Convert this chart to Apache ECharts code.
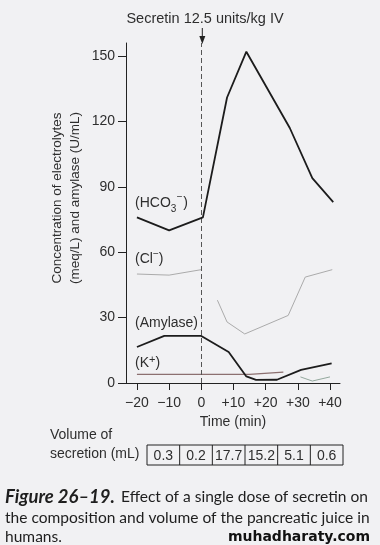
<!DOCTYPE html>
<html><head><meta charset="utf-8">
<script src="https://cdn.jsdelivr.net/npm/echarts/dist/echarts.min.js"></script>
<style>html,body{margin:0;padding:0;background:#f1f1f3;}#c{width:380px;height:545px;}</style>
</head><body><div id="c"></div>
<script>
// ---- data ----
const timeTicks = [-20, -10, 0, 10, 20, 30, 40];
const yTicks = [0, 30, 60, 90, 120, 150];
const hco3 = [[-20, 76], [-10, 70], [0.5, 76], [8, 131], [14, 152], [27.5, 117], [34.5, 94], [41, 83]];
const chloride = [[-20, 50], [-10, 49.5], [0, 52], [2.5, null], [5, 38], [8, 28], [13.5, 22.5], [27, 31], [32.3, 48.6], [40.7, 52]];
const amylase = [[-20, 16.5], [-11.5, 21.6], [0, 21.6], [8.5, 14.2], [14, 3], [17, 1.4], [23.5, 1.5], [31, 6], [40.5, 9]];
const potassium = [[-20, 4], [0, 4], [15, 4], [25.5, 5]];
const potassiumLate = [[30.8, 2.8], [34.5, 0.9], [40, 2.8]];
const volumeLabels = ['0.3', '0.2', '17.7', '15.2', '5.1', '0.6'];
const secretinLabel = 'Secretin 12.5 units/kg IV';
const yTitle = ['Concentration of electrolytes', '(meq/L) and amylase (U/mL)'];
const xTitle = 'Time (min)';
const captionBold = 'Figure 26\u201319.';
const captionLines = ['Effect of a single dose of secretin on', 'the composition and volume of the pancreatic juice in', 'humans.'];
const watermark = 'muhadharaty.com';

// ---- chart ----
const FF = '"Liberation Sans", Arial, sans-serif';
const TXT = '#2e2e2e';
const chart = echarts.init(document.getElementById('c'), null, {renderer: 'canvas'});
const ctx = document.createElement('canvas').getContext('2d');
function tw(font, s) { ctx.font = font; return ctx.measureText(s).width; }

chart.setOption({
  animation: false,
  backgroundColor: '#f1f1f3',
  grid: {left: 126, right: 40, top: 43, bottom: 162},
  xAxis: {
    type: 'value', min: -23.4, max: 43.1,
    axisLine: {show: true, onZero: false, lineStyle: {color: '#222', width: 1}},
    axisTick: {show: true, customValues: timeTicks, length: 7, lineStyle: {color: '#222'}},
    axisLabel: {customValues: timeTicks, fontSize: 14, fontFamily: FF, color: TXT, margin: 13,
      formatter: v => v > 0 ? '+' + v : (v < 0 ? '\u2212' + Math.abs(v) : '0')},
    splitLine: {show: false},
    name: xTitle, nameLocation: 'middle', nameGap: 32,
    nameTextStyle: {fontSize: 14, fontFamily: FF, color: TXT}
  },
  yAxis: {
    type: 'value', min: 0, max: 156,
    axisLine: {show: true, onZero: false, lineStyle: {color: '#222', width: 1}},
    axisTick: {show: true, customValues: yTicks, length: 8, lineStyle: {color: '#222'}},
    axisLabel: {customValues: yTicks, fontSize: 14, fontFamily: FF, color: TXT, margin: 11},
    splitLine: {show: false}
  },
  series: [
    {name: 'HCO3', type: 'line', data: hco3, symbol: 'none', z: 5,
      lineStyle: {color: '#1c1c1c', width: 1.8},
      markLine: {silent: true, symbol: 'none', label: {show: false},
        lineStyle: {type: [5, 3], color: '#555', width: 1}, data: [{xAxis: 0}]}},
    {name: 'Cl', type: 'line', data: chloride, symbol: 'none', connectNulls: false,
      lineStyle: {color: '#ababab', width: 1}},
    {name: 'Amylase', type: 'line', data: amylase, symbol: 'none', z: 5,
      lineStyle: {color: '#1c1c1c', width: 1.8}},
    {name: 'K', type: 'line', data: potassium, symbol: 'none',
      lineStyle: {color: '#8c7070', width: 1.2}},
    {name: 'K2', type: 'line', data: potassiumLate, symbol: 'none',
      lineStyle: {color: '#93a89d', width: 1}}
  ]
});

const x0 = chart.convertToPixel({xAxisIndex: 0}, 0);
const g = [];
function T(text, x, y, size, opts) {
  opts = opts || {};
  g.push({type: 'text', x: x, y: y, rotation: opts.rot || 0, silent: true,
    style: {text: text, fontSize: size, fontFamily: opts.ff || FF, fontWeight: opts.fw || 'normal',
      fontStyle: opts.fs || 'normal', fill: opts.fill || TXT, align: opts.align || 'left',
      verticalAlign: opts.va || 'middle'}});
}
// secretin label + arrow
T(secretinLabel, 205, 19, 14.5, {align: 'center'});
g.push({type: 'line', silent: true, shape: {x1: x0 + 1, y1: 28, x2: x0 + 1, y2: 40}, style: {stroke: '#222', lineWidth: 1}});
g.push({type: 'polygon', silent: true, shape: {points: [[x0 - 2, 36], [x0 + 4, 36], [x0 + 1, 44]]}, style: {fill: '#222'}});

// y-axis title (rotated)
T(yTitle[0], 57, 198, 13.5, {rot: Math.PI / 2, align: 'center'});
T(yTitle[1], 75, 198, 13.5, {rot: Math.PI / 2, align: 'center'});

// series labels
let f14 = '14px ' + FF, f10 = '10px ' + FF;
let xx = 135;
T('(HCO', xx, 203, 14); xx += tw(f14, '(HCO');
T('3', xx, 209, 10);
T('\u2212', xx + 6, 197, 10); xx += tw(f10, '3') + tw(f10, '\u2212') + 1;
T(')', xx, 203, 14);
xx = 135;
T('(Cl', xx, 259, 14); xx += tw(f14, '(Cl');
T('\u2212', xx, 254, 10); xx += tw(f10, '\u2212');
T(')', xx, 259, 14);
T('(Amylase)', 135, 323, 14);
xx = 135;
T('(K', xx, 363, 14); xx += tw(f14, '(K');
T('+', xx, 360, 11); xx += tw('11px ' + FF, '+');
T(')', xx, 363, 14);

// volume table
T('Volume of', 50, 435, 14);
T('secretion (mL)', 50, 454, 14);
const tx = 147, ty = 445, tW = 196, tH = 20, cw = tW / volumeLabels.length;
g.push({type: 'rect', silent: true, shape: {x: tx, y: ty, width: tW, height: tH}, style: {fill: 'none', stroke: '#222', lineWidth: 1}});
volumeLabels.forEach((v, i) => {
  if (i > 0) g.push({type: 'line', silent: true, shape: {x1: tx + i * cw, y1: ty, x2: tx + i * cw, y2: ty + tH}, style: {stroke: '#222', lineWidth: 1}});
  T(v, tx + (i + 0.5) * cw, ty + tH / 2 + 1, 14, {align: 'center'});
});

// caption
const CF = 'Lato, "Open Sans", sans-serif';
const capSize = 100 * 365 / tw('100px ' + CF, captionLines[1]);
const boldSize = 100 * 110 / tw('italic bold 100px ' + CF, captionBold);
T(captionBold, 5, 497, boldSize, {ff: CF, fw: 'bold', fs: 'italic', fill: '#1e1e1e'});
T(captionLines[0], 121, 497, capSize, {ff: CF, fill: '#1e1e1e'});
T(captionLines[1], 5, 518, capSize, {ff: CF, fill: '#1e1e1e'});
T(captionLines[2], 5, 537, capSize, {ff: CF, fill: '#1e1e1e'});
T(watermark, 370, 537, 14, {ff: '"DejaVu Sans", sans-serif', fw: 'bold', align: 'right', fill: '#111'});

chart.setOption({graphic: {elements: g}});
</script>
</body></html>
